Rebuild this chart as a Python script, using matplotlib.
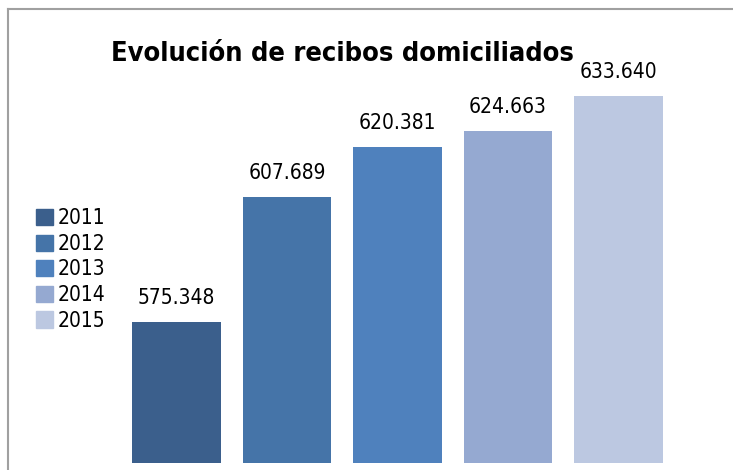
import matplotlib
matplotlib.use("Agg")
import matplotlib.pyplot as plt
from matplotlib.lines import Line2D

years = ["2011", "2012", "2013", "2014", "2015"]
values = [575348, 607689, 620381, 624663, 633640]
labels = ["575.348", "607.689", "620.381", "624.663", "633.640"]
colors = ["#3B5F8C", "#4574A8", "#4F81BD", "#95A9D1", "#BCC8E1"]
title = "Evolución de recibos domiciliados"

plt.rcParams['font.family'] = ['DejaVu Sans']
plt.rcParams['font.stretch'] = 'condensed'

W, H = 733, 470
fig = plt.figure(figsize=(W / 100, H / 100), dpi=100)
fig.patch.set_facecolor("white")

ax = fig.add_axes([0, (H - 463) / H, 1, (463 - 20) / H])
ax.set_axis_off()

xs = list(range(len(years)))
ax.bar(xs, values, width=0.805, color=colors)
ppu = 110.5
ax.set_xlim(-176.5 / ppu, (W - 176.5) / ppu)
base = 538984
ax.set_ylim(base, base + 443 * 257.9)

for x, v, t in zip(xs, values, labels):
    ax.annotate(t, (x, v), xytext=(0, 10), textcoords="offset points",
                ha="center", va="bottom", fontsize=15, color="#000000")

fig.text(0.467, 0.885, title, ha="center", va="center", fontsize=19.5,
         fontweight="bold", color="#000000")

handles = [plt.Rectangle((0, 0), 1, 1, color=c) for c in colors]
fig.legend(handles, years, loc="upper left", bbox_to_anchor=(0.049, 0.557),
           frameon=False, fontsize=15, handlelength=0.82, handleheight=0.82,
           handletextpad=0.2, labelspacing=0.27, borderpad=0, borderaxespad=0)

fig.add_artist(Line2D([8 / W, 8 / W], [0, 1 - 9 / H], transform=fig.transFigure,
                      color="#A0A0A0", lw=1.5))
fig.add_artist(Line2D([8 / W, 1], [1 - 9 / H, 1 - 9 / H], transform=fig.transFigure,
                      color="#A0A0A0", lw=1.5))

fig.savefig("out.png", dpi=100, facecolor="white")
